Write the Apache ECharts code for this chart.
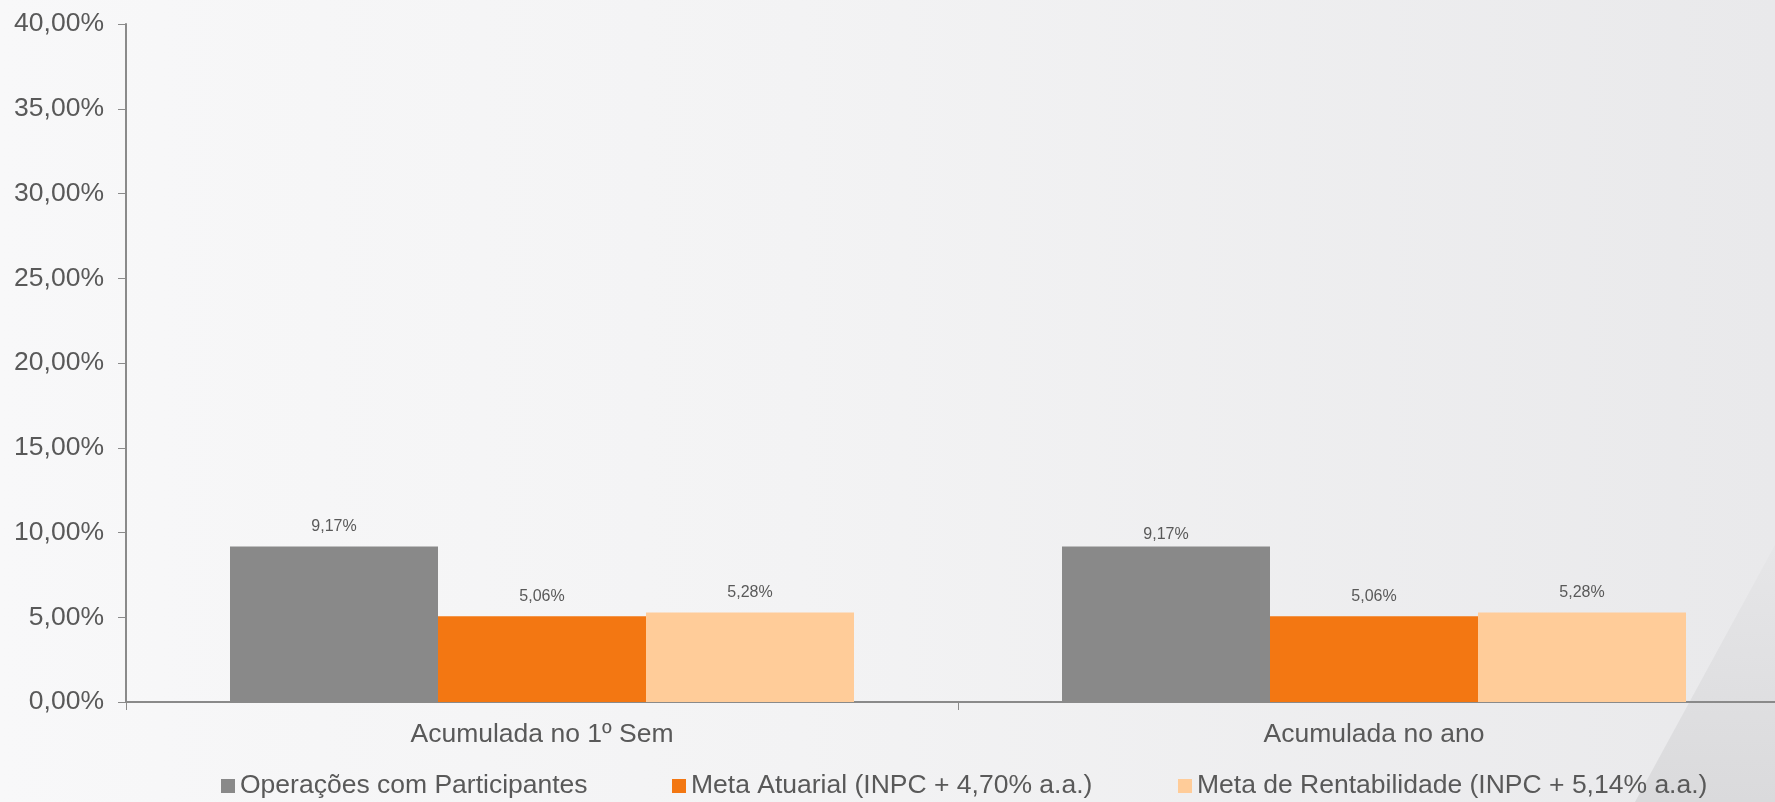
<!DOCTYPE html>
<html>
<head>
<meta charset="utf-8">
<script src="https://cdn.jsdelivr.net/npm/echarts@6/dist/echarts.min.js"></script>
<style>
  html, body { margin: 0; padding: 0; }
  body {
    width: 1775px; height: 802px; position: relative; overflow: hidden;
    background: linear-gradient(90deg, #f8f8f9 0%, #f3f3f4 45%, #e9e9eb 100%);
  }
  .corner {
    position: absolute; left: 0; top: 0; width: 1775px; height: 802px;
    background: linear-gradient(180deg, #e9e9eb 60%, #dadadc 100%);
    clip-path: polygon(1775px 545px, 1775px 802px, 1635px 802px);
  }
  /* wider than the window: the category axis runs past the right edge */
  #chart { position: absolute; left: 0; top: 0; width: 1800px; height: 802px; }
</style>
</head>
<body>
<div class="corner"></div>
<div id="chart"></div>
<script>
  const categories = ['Acumulada no 1º Sem', 'Acumulada no ano'];
  const seriesNames = [
    'Operações com Participantes',
    'Meta Atuarial (INPC + 4,70% a.a.)',
    'Meta de Rentabilidade (INPC + 5,14% a.a.)'
  ];
  const operacoes = [9.17, 9.17];
  const metaAtuarial = [5.06, 5.06];
  const metaRentabilidade = [5.28, 5.28];
  const yTicks = { min: 0, max: 40, interval: 5 };

  const colors = ['#898989', '#f37712', '#ffcc99'];
  const textColor = '#595959';
  const font = 'Liberation Sans, Arial, sans-serif';

  function pct(v) {
    return v.toFixed(2).replace('.', ',') + '%';
  }

  const chart = echarts.init(document.getElementById('chart'));

  const values = [operacoes, metaAtuarial, metaRentabilidade];
  const legendLeft = [221, 672, 1178];

  chart.setOption({
    backgroundColor: 'transparent',
    animation: false,
    grid: { left: 126, top: 24, bottom: 100, width: 1664, containLabel: false },
    legend: seriesNames.map((name, i) => ({
      data: [name],
      left: legendLeft[i],
      top: 772,
      padding: 0,
      itemWidth: 14,
      itemHeight: 14,
      icon: 'rect',
      textStyle: { color: textColor, fontSize: 26.5, fontFamily: font, lineHeight: 28 }
    })),
    xAxis: {
      type: 'category',
      data: categories,
      axisLine: { lineStyle: { color: '#8a8a8a', width: 2 } },
      axisTick: { show: true, length: 8, lineStyle: { color: '#8a8a8a', width: 1 } },
      axisLabel: { color: textColor, fontSize: 26.5, fontFamily: font, margin: 19 }
    },
    yAxis: {
      type: 'value',
      min: yTicks.min,
      max: yTicks.max,
      interval: yTicks.interval,
      axisLine: { show: true, lineStyle: { color: '#8a8a8a', width: 2 } },
      axisTick: { show: true, length: 8, lineStyle: { color: '#8a8a8a' } },
      splitLine: { show: false },
      axisLabel: {
        color: textColor, fontSize: 26.5, fontFamily: font, margin: 22,
        formatter: (v) => pct(v)
      }
    },
    series: seriesNames.map((name, i) => ({
      name: name,
      type: 'bar',
      barGap: 0,
      barCategoryGap: '25%',
      data: values[i].map((v, j) => (i === 0 && j === 1)
        ? { value: v, label: { distance: 4 } }
        : v),
      itemStyle: { color: colors[i] },
      label: {
        show: true,
        position: 'top',
        distance: 12,
        color: textColor,
        fontSize: 16,
        fontFamily: font,
        formatter: (p) => pct(p.value)
      }
    }))
  });
</script>
</body>
</html>
